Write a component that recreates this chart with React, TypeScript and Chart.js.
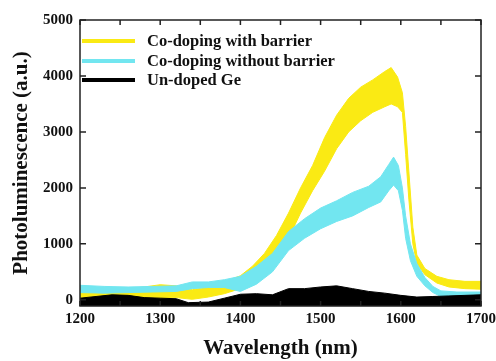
import React, { useEffect, useRef } from "react";
import { Chart, registerables } from "chart.js";

Chart.register(...registerables);

// Co-doping with barrier (yellow) envelope of the noisy spectrum
const yellowWl = [1200, 1220, 1240, 1260, 1280, 1300, 1320, 1340, 1360, 1380, 1400, 1415, 1430, 1445, 1460, 1475, 1490, 1505, 1520, 1535, 1550, 1565, 1580, 1588, 1596, 1602, 1606, 1610, 1615, 1620, 1630, 1645, 1660, 1680, 1700];
const yellowHigh = [200, 190, 180, 200, 230, 270, 250, 180, 230, 320, 430, 600, 830, 1150, 1550, 2000, 2400, 2900, 3300, 3600, 3800, 3930, 4080, 4150, 3980, 3700, 3100, 2300, 1300, 800, 560, 420, 360, 330, 330];
const yellowLow = [-30, -20, -30, -20, 0, 20, 40, 10, 50, 110, 200, 330, 520, 780, 1100, 1550, 1950, 2300, 2700, 3000, 3200, 3350, 3450, 3500, 3450, 3350, 2600, 1800, 1000, 650, 450, 300, 230, 200, 190];

// Co-doping without barrier (cyan)
const cyanWl = [1200, 1230, 1260, 1290, 1320, 1340, 1360, 1380, 1400, 1420, 1440, 1460, 1480, 1500, 1520, 1540, 1560, 1575, 1585, 1591, 1597, 1602, 1606, 1612, 1620, 1630, 1640, 1650, 1670, 1700];
const cyanHigh = [260, 240, 230, 240, 250, 320, 320, 360, 420, 600, 830, 1220, 1450, 1640, 1770, 1920, 2030, 2200, 2420, 2550, 2400, 2000, 1500, 1000, 650, 400, 240, 160, 140, 140];
const cyanLow = [130, 120, 130, 140, 150, 200, 220, 220, 150, 280, 500, 880, 1100, 1270, 1400, 1500, 1650, 1750, 1950, 2050, 1950, 1600, 1100, 700, 420, 250, 130, 60, 40, 40];

// Un-doped Ge (black)
const blackWl = [1200, 1220, 1240, 1260, 1280, 1300, 1320, 1335, 1360, 1380, 1400, 1420, 1440, 1460, 1480, 1500, 1520, 1540, 1560, 1580, 1600, 1620, 1640, 1660, 1680, 1700];
const blackHigh = [30, 60, 90, 80, 40, 30, 20, -50, -40, 30, 100, 110, 90, 200, 200, 230, 250, 200, 150, 120, 80, 50, 60, 70, 80, 90];
const blackLow = [-110, -110, -110, -110, -110, -110, -110, -110, -110, -110, -110, -110, -110, -110, -110, -110, -110, -110, -110, -110, -110, -110, -110, -110, -110, -110];

const seriesNames = ["Co-doping with barrier", "Co-doping without barrier", "Un-doped Ge"];
const seriesColors = ["#FAEA14", "#72E6F0", "#000000"];

const xTicks = [1200, 1300, 1400, 1500, 1600, 1700];
const xMinorTicks = [1200, 1250, 1300, 1350, 1400, 1450, 1500, 1550, 1600, 1650, 1700];
const yTicks = [0, 1000, 2000, 3000, 4000, 5000];

const FONT = "'Liberation Serif', 'Times New Roman', serif";

const pts = (xs: number[], ys: number[]) => xs.map((x, i) => ({ x, y: ys[i] }));

const framePlugin = {
  id: "frame",
  afterDraw(chart: any) {
    const { ctx, chartArea: a, scales } = chart;
    const xs = scales.x;
    const ys = scales.y;
    ctx.save();
    ctx.strokeStyle = "#222";
    ctx.lineWidth = 1.5;
    ctx.strokeRect(a.left, a.top, a.right - a.left, a.bottom - a.top);
    ctx.beginPath();
    xMinorTicks.forEach((v) => {
      const px = xs.getPixelForValue(v);
      ctx.moveTo(px, a.top);
      ctx.lineTo(px, a.top + 5);
      ctx.moveTo(px, a.bottom);
      ctx.lineTo(px, a.bottom - 5);
    });
    yTicks.forEach((v) => {
      const py = ys.getPixelForValue(v);
      ctx.moveTo(a.left, py);
      ctx.lineTo(a.left + 6, py);
      ctx.moveTo(a.right, py);
      ctx.lineTo(a.right - 6, py);
    });
    ctx.stroke();

    // legend
    ctx.font = `bold 16.5px ${FONT}`;
    ctx.textBaseline = "middle";
    ctx.textAlign = "left";
    const rows = [41, 61, 80];
    seriesNames.forEach((name, i) => {
      ctx.strokeStyle = seriesColors[i];
      ctx.lineWidth = 4;
      ctx.beginPath();
      ctx.moveTo(82, rows[i]);
      ctx.lineTo(135, rows[i]);
      ctx.stroke();
      ctx.fillStyle = "#111";
      ctx.fillText(name, 147, rows[i] + 1);
    });
    ctx.restore();
  },
};

export default function App() {
  const ref = useRef<HTMLCanvasElement | null>(null);
  useEffect(() => {
    if (!ref.current) return;
    const band = (xs: number[], hi: number[], lo: number[], color: string) => [
      {
        label: "hi",
        data: pts(xs, hi),
        borderColor: color,
        backgroundColor: color,
        borderWidth: 1,
        pointRadius: 0,
        fill: "+1",
        tension: 0,
      },
      {
        label: "lo",
        data: pts(xs, lo),
        borderColor: color,
        backgroundColor: color,
        borderWidth: 1,
        pointRadius: 0,
        fill: false,
        tension: 0,
      },
    ];
    const chart = new Chart(ref.current, {
      type: "line",
      data: {
        datasets: [
          ...band(blackWl, blackHigh, blackLow, seriesColors[2]),
          ...band(cyanWl, cyanHigh, cyanLow, seriesColors[1]),
          ...band(yellowWl, yellowHigh, yellowLow, seriesColors[0]),
        ] as any,
      },
      options: {
        animation: false,
        responsive: true,
        maintainAspectRatio: false,
        layout: { padding: { top: 20, right: 15, left: 0, bottom: 0 } },
        plugins: { legend: { display: false }, tooltip: { enabled: false } },
        scales: {
          x: {
            type: "linear",
            min: 1200,
            max: 1700,
            afterBuildTicks: (s: any) => {
              s.ticks = xTicks.map((v) => ({ value: v }));
            },
            afterFit: (s: any) => {
              s.height = 55;
              s.paddingLeft = 0;
              s.paddingRight = 0;
            },
            grid: { display: false, drawTicks: false },
            border: { display: false },
            ticks: {
              color: "#111",
              padding: 4,
              maxRotation: 0,
              autoSkip: false,
              callback: (v: any) => String(v),
              font: { family: FONT, size: 15, weight: "bold" },
            },
            title: {
              display: true,
              text: "Wavelength (nm)",
              color: "#111",
              padding: { top: 0, bottom: 0 },
              font: { family: FONT, size: 21, weight: "bold" },
            },
          },
          y: {
            type: "linear",
            min: -110,
            max: 5000,
            afterBuildTicks: (s: any) => {
              s.ticks = yTicks.map((v) => ({ value: v }));
            },
            afterFit: (s: any) => {
              s.width = 80;
              s.paddingTop = 0;
              s.paddingBottom = 0;
            },
            grid: { display: false, drawTicks: false },
            border: { display: false },
            ticks: {
              color: "#111",
              padding: 7,
              callback: (v: any) => String(v),
              font: { family: FONT, size: 15, weight: "bold" },
            },
            title: {
              display: true,
              text: "Photoluminescence (a.u.)",
              color: "#111",
              padding: { top: 9, bottom: 0 },
              font: { family: FONT, size: 21, weight: "bold" },
            },
          },
        },
      },
      plugins: [framePlugin],
    });
    return () => chart.destroy();
  }, []);
  return (
    <>
      <style>{"body{margin:0}"}</style>
      <div style={{ width: 496, height: 361, position: "relative" }}>
        <canvas ref={ref} />
      </div>
    </>
  );
}
